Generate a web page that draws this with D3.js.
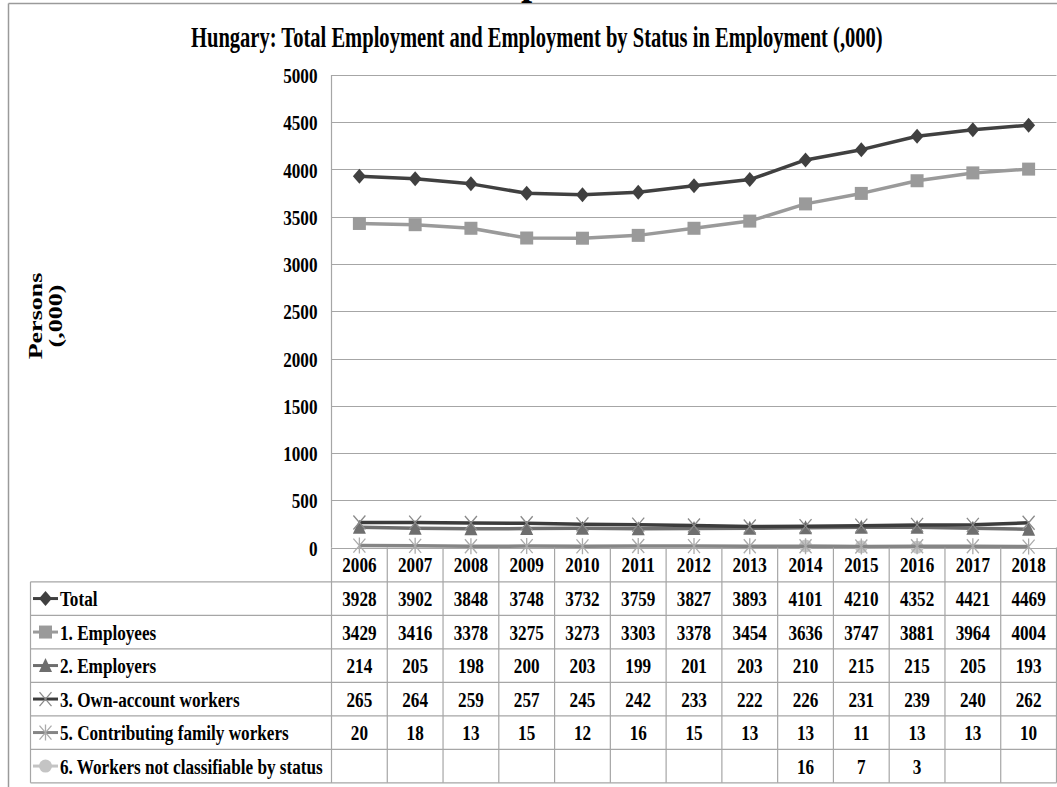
<!DOCTYPE html>
<html>
<head>
<meta charset="utf-8">
<script src="https://cdn.jsdelivr.net/npm/d3@7"></script>
<style>
html,body{margin:0;padding:0;background:#fff;}
svg{display:block;}
text{font-family:"Liberation Serif","Times New Roman",serif;font-weight:bold;fill:#000;}
</style>
</head>
<body>
<svg id="chart" width="1057" height="787"></svg>
<script>
const years = ["2006","2007","2008","2009","2010","2011","2012","2013","2014","2015","2016","2017","2018"];
const total = [3928,3902,3848,3748,3732,3759,3827,3893,4101,4210,4352,4421,4469];
const employees = [3429,3416,3378,3275,3273,3303,3378,3454,3636,3747,3881,3964,4004];
const employers = [214,205,198,200,203,199,201,203,210,215,215,205,193];
const ownAccount = [265,264,259,257,245,242,233,222,226,231,239,240,262];
const family = [20,18,13,15,12,16,15,13,13,11,13,13,10];
const notClassifiable = [null,null,null,null,null,null,null,null,16,7,3,null,null];
const seriesNames = ["Total","1. Employees","2. Employers","3. Own-account workers","5. Contributing family workers","6. Workers not classifiable by status"];
const yTicks = [0,500,1000,1500,2000,2500,3000,3500,4000,4500,5000];
const titleText = "Hungary: Total Employment and Employment by Status in Employment (,000)";
const yTitle = ["Persons","(,000)"];

const series = [
  {name: seriesNames[0], values: total, line: "#404040", mark: "#404040", shape: "diamond"},
  {name: seriesNames[1], values: employees, line: "#9a9a9a", mark: "#9a9a9a", shape: "square"},
  {name: seriesNames[2], values: employers, line: "#6e6e6e", mark: "#6e6e6e", shape: "triangle"},
  {name: seriesNames[3], values: ownAccount, line: "#3c3c3c", mark: "#8a8a8a", shape: "x"},
  {name: seriesNames[4], values: family, line: "#858585", mark: "#ababab", shape: "star"},
  {name: seriesNames[5], values: notClassifiable, line: "#c4c4c4", mark: "#c4c4c4", shape: "circle"}
];

const svg = d3.select("#chart");
const plotL = 331.5, plotR = 1056.5, plotT = 75, plotB = 547.5;
const x = d3.scaleBand().domain(years).range([plotL, plotR]);
const y = d3.scaleLinear().domain([0, 5000]).range([plotB, plotT]);
const SX = 0.78, FS = 22;

// outer frame
svg.append("line").attr("x1", 8.5).attr("x2", 1057).attr("y1", 3.5).attr("y2", 3.5).attr("stroke", "#9a9a9a").attr("stroke-width", 1.5);
svg.append("line").attr("x1", 8.5).attr("x2", 8.5).attr("y1", 3.5).attr("y2", 787).attr("stroke", "#9a9a9a").attr("stroke-width", 1.5);
// cut-off heading glyph (part of a larger heading above the frame)
svg.append("text").attr("x", 532).attr("y", -6).attr("text-anchor", "middle").attr("font-size", 40).text("p");

// title: natural width measured, then compressed horizontally to the reference width
const title = svg.append("text").attr("x", 0).attr("y", 0).attr("font-size", 30).text(titleText);
const tw = title.node().getComputedTextLength();
title.attr("transform", `translate(191,47) scale(${692 / tw},1)`);

// gridlines
svg.append("g").selectAll("line").data(yTicks).join("line")
  .attr("x1", plotL).attr("x2", plotR)
  .attr("y1", d => Math.round(y(d)) + 0.5).attr("y2", d => Math.round(y(d)) + 0.5)
  .attr("stroke", "#a6a6a6").attr("stroke-width", 1.2);

// y axis line
svg.append("line").attr("x1", plotL).attr("x2", plotL).attr("y1", plotT).attr("y2", plotB)
  .attr("stroke", "#a6a6a6").attr("stroke-width", 1.2);

// y tick labels
const yAxis = d3.axisLeft(y).tickValues(yTicks).tickSize(0).tickPadding(0).tickFormat(d3.format("d"));
const ya = svg.append("g").attr("transform", `translate(${plotL},0)`).call(yAxis);
ya.select(".domain").remove();
ya.selectAll("text").attr("font-size", FS).attr("font-family", null)
  .attr("dy", "0.35em").attr("x", 0)
  .attr("transform", `translate(-14,0) scale(${SX},1)`);

// y title
const yt = svg.append("g").attr("transform", "translate(43,316) scale(0.72,1) rotate(-90)");
yt.selectAll("text").data(yTitle).join("text")
  .attr("x", 0).attr("y", (d, i) => i * 28 - 2).attr("text-anchor", "middle")
  .attr("font-size", 26).text(d => d);

// markers
function drawMarker(g, shape, color, cx, cy) {
  const s = g.append("g").attr("transform", `translate(${cx},${cy})`);
  if (shape === "diamond") {
    s.append("path").attr("d", "M0,-7.5L6.5,0L0,7.5L-6.5,0Z").attr("fill", color);
  } else if (shape === "square") {
    s.append("rect").attr("x", -6.5).attr("y", -6.5).attr("width", 13).attr("height", 13).attr("fill", color);
  } else if (shape === "triangle") {
    s.append("path").attr("d", "M0,-7.5L6.5,6.5L-6.5,6.5Z").attr("fill", color);
  } else if (shape === "x") {
    s.append("path").attr("d", "M-6,-7L6,7M6,-7L-6,7").attr("stroke", color).attr("stroke-width", 1.3);
  } else if (shape === "star") {
    s.append("path").attr("d", "M-6,-7L6,7M6,-7L-6,7M0,-8L0,8").attr("stroke", color).attr("stroke-width", 1.3);
  } else if (shape === "circle") {
    s.append("circle").attr("r", 6.5).attr("fill", color);
  }
}

// lines
const lineGen = d3.line()
  .defined(d => d.v !== null)
  .x(d => x(d.year) + x.bandwidth() / 2)
  .y(d => y(d.v));

const drawOrder = [5, 4, 2, 3, 1, 0];
drawOrder.forEach(i => {
  const s = series[i];
  const pts = years.map((yr, j) => ({year: yr, v: s.values[j]}));
  const g = svg.append("g");
  g.append("path").datum(pts).attr("d", lineGen).attr("fill", "none")
    .attr("stroke", s.line).attr("stroke-width", 3.5).attr("stroke-linejoin", "round");
  pts.filter(p => p.v !== null).forEach(p => drawMarker(g, s.shape, s.mark, x(p.year) + x.bandwidth() / 2, y(p.v)));
});

// table
const rowTop = 547.5, headerH = 34.3, rowH = 33.5, tableL = 30.5;
const nRows = seriesNames.length;
const tableB = rowTop + headerH + nRows * rowH;
const tg = svg.append("g");
const borderColor = "#a6a6a6";
for (let r = 0; r <= nRows; r++) {
  const yy = rowTop + headerH + r * rowH;
  tg.append("line").attr("x1", tableL).attr("x2", plotR).attr("y1", yy).attr("y2", yy).attr("stroke", borderColor).attr("stroke-width", 1.2);
}
years.forEach(yr => {
  tg.append("line").attr("x1", x(yr)).attr("x2", x(yr)).attr("y1", rowTop).attr("y2", tableB).attr("stroke", borderColor).attr("stroke-width", 1.2);
});
tg.append("line").attr("x1", plotR).attr("x2", plotR).attr("y1", rowTop).attr("y2", tableB).attr("stroke", borderColor).attr("stroke-width", 1.2);
tg.append("line").attr("x1", tableL).attr("x2", tableL).attr("y1", rowTop + headerH).attr("y2", tableB).attr("stroke", borderColor).attr("stroke-width", 1.2);

// header years
tg.selectAll("text.yr").data(years).join("text").attr("class", "yr")
  .attr("font-size", FS).attr("text-anchor", "middle")
  .attr("transform", d => `translate(${x(d) + x.bandwidth() / 2},${rowTop + headerH / 2}) scale(${SX},1)`)
  .attr("dy", "0.35em").text(d => d);

// rows
series.forEach((s, r) => {
  const cy = rowTop + headerH + r * rowH + rowH / 2;
  tg.append("line").attr("x1", 33).attr("x2", 58).attr("y1", cy).attr("y2", cy).attr("stroke", s.line).attr("stroke-width", 3);
  drawMarker(tg, s.shape, s.mark, 45.5, cy);
  tg.append("text").attr("font-size", FS)
    .attr("transform", `translate(60,${cy}) scale(${SX},1)`).attr("dy", "0.35em").text(s.name);
  s.values.forEach((v, j) => {
    if (v === null) return;
    tg.append("text").attr("font-size", FS).attr("text-anchor", "middle")
      .attr("transform", `translate(${x(years[j]) + x.bandwidth() / 2},${cy}) scale(${SX},1)`)
      .attr("dy", "0.35em").text(v);
  });
});
</script>
</body>
</html>
